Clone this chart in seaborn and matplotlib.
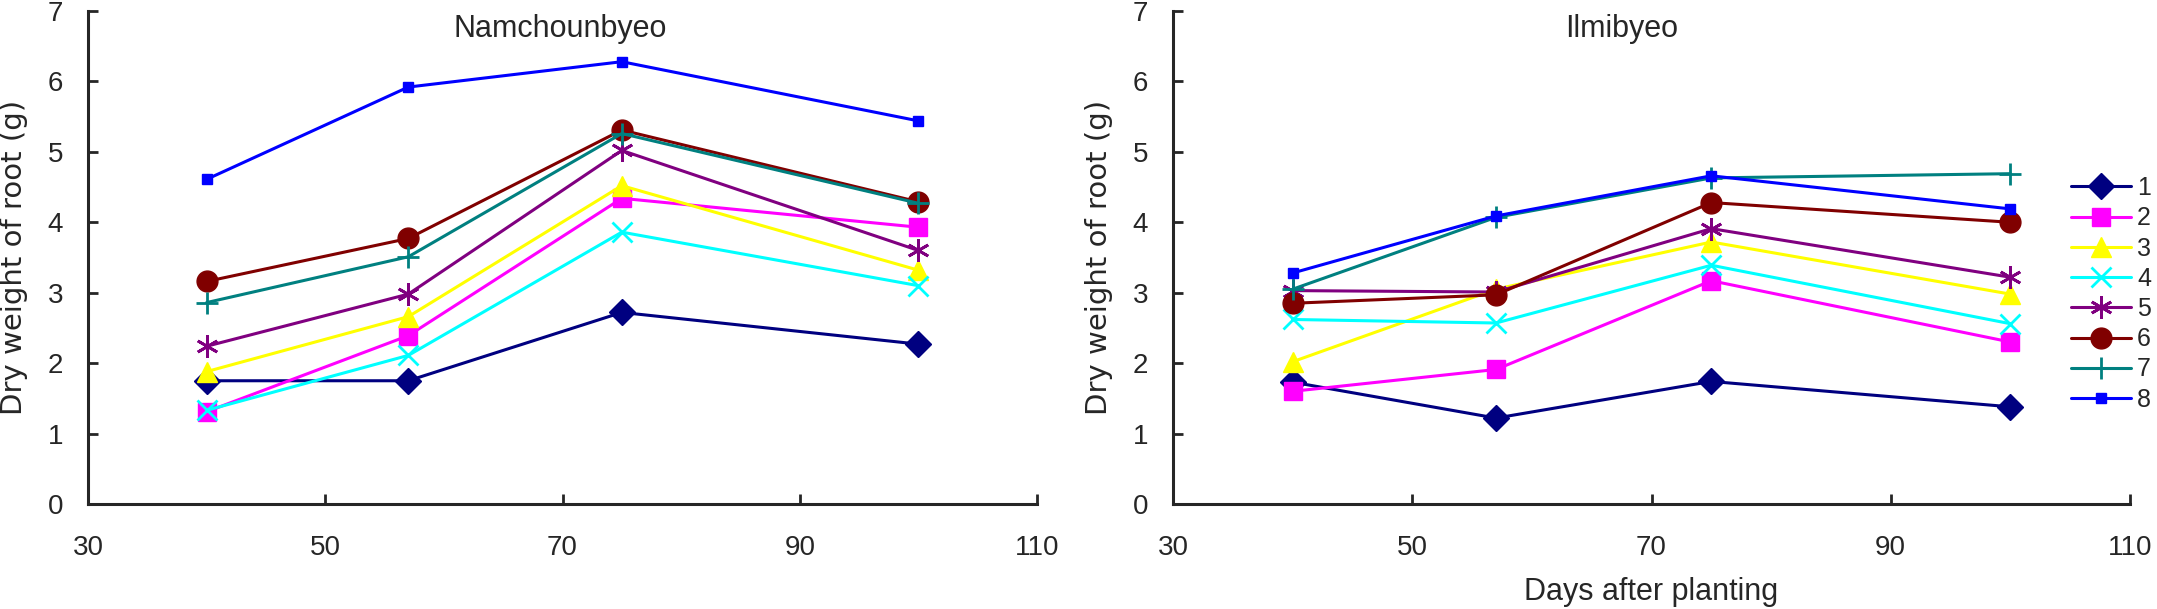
import pandas as pd
import matplotlib.pyplot as plt
import seaborn as sns

# Dias após plantio
days = [40, 57, 75, 100]
series_names = ["1", "2", "3", "4", "5", "6", "7", "8"]

# Peso seco da raiz (g) - Namchounbyeo
nam_1 = [1.75, 1.75, 2.72, 2.27]
nam_2 = [1.31, 2.39, 4.34, 3.93]
nam_3 = [1.88, 2.66, 4.52, 3.32]
nam_4 = [1.33, 2.11, 3.86, 3.10]
nam_5 = [2.24, 2.98, 5.02, 3.60]
nam_6 = [3.16, 3.77, 5.31, 4.29]
nam_7 = [2.86, 3.51, 5.26, 4.27]
nam_8 = [4.61, 5.92, 6.28, 5.44]

# Peso seco da raiz (g) - Ilmibyeo
ilm_1 = [1.73, 1.22, 1.74, 1.38]
ilm_2 = [1.60, 1.91, 3.17, 2.30]
ilm_3 = [2.02, 3.05, 3.72, 2.98]
ilm_4 = [2.62, 2.57, 3.39, 2.56]
ilm_5 = [3.03, 3.01, 3.91, 3.22]
ilm_6 = [2.85, 2.97, 4.28, 4.00]
ilm_7 = [3.05, 4.07, 4.63, 4.69]
ilm_8 = [3.28, 4.09, 4.66, 4.19]

nam_values = [nam_1, nam_2, nam_3, nam_4, nam_5, nam_6, nam_7, nam_8]
ilm_values = [ilm_1, ilm_2, ilm_3, ilm_4, ilm_5, ilm_6, ilm_7, ilm_8]

colors = ["#000080", "#FF00FF", "#FFFF00", "#00FFFF", "#800080", "#800000", "#008080", "#0000FF"]
markers = ["D", "s", "^", "x", (6, 2, 0), "o", "+", "s"]
msizes = [13, 13, 14, 14, 16, 15, 16, 7]
mews = [1, 1, 1, 2, 2, 1, 2, 1]

sns.set_style("ticks")
plt.rcParams["font.family"] = ["Liberation Sans", "DejaVu Sans"]

fig = plt.figure(figsize=(21.57, 6.09), dpi=100)
ax1 = fig.add_axes([88 / 2157, 1 - 504 / 609, (1037 - 88) / 2157, (504 - 11) / 609])
ax2 = fig.add_axes([1173 / 2157, 1 - 504 / 609, (2130 - 1173) / 2157, (504 - 11) / 609])


def draw_panel(ax, values, title, title_x):
    rows = []
    for name, vals in zip(series_names, values):
        for d, v in zip(days, vals):
            rows.append({"days": d, "weight": v, "series": name})
    df = pd.DataFrame(rows)
    for i, name in enumerate(series_names):
        sub = df[df["series"] == name]
        sns.lineplot(data=sub, x="days", y="weight", ax=ax, color=colors[i],
                     marker=markers[i], markersize=msizes[i], markeredgewidth=mews[i],
                     markeredgecolor=colors[i], linewidth=2.2, label=name, legend=False)
    ax.set_xlim(30, 110)
    ax.set_ylim(0, 7)
    ax.set_xticks([30, 50, 70, 90, 110])
    ax.set_yticks(range(0, 8))
    sns.despine(ax=ax)
    for s in ["left", "bottom"]:
        ax.spines[s].set_linewidth(2.2)
    ax.tick_params(axis="both", direction="in", length=7, width=2, labelsize=20)
    ax.tick_params(axis="x", pad=22)
    ax.tick_params(axis="y", pad=18)
    ax.set_ylabel("Dry weight of root (g)", fontsize=21, family="DejaVu Sans", labelpad=14)
    ax.set_xlabel("")
    ax.text(title_x, 6.75, title, fontsize=22, ha="center", va="center")


draw_panel(ax1, nam_values, "Namchounbyeo", 69.8)
draw_panel(ax2, ilm_values, "Ilmibyeo", 67.5)
ax2.set_xlabel("Days after planting", fontsize=22, labelpad=12)

handles = ax2.get_lines()
ax2.legend(handles=handles, labels=series_names, loc="upper left",
           bbox_to_anchor=(2071 / 2157, 1 - 176 / 609), bbox_transform=fig.transFigure,
           frameon=False, fontsize=18, handlelength=2.4, handletextpad=0.25,
           labelspacing=0.25, borderpad=0, borderaxespad=0)

fig.savefig("out.png", dpi=100)
